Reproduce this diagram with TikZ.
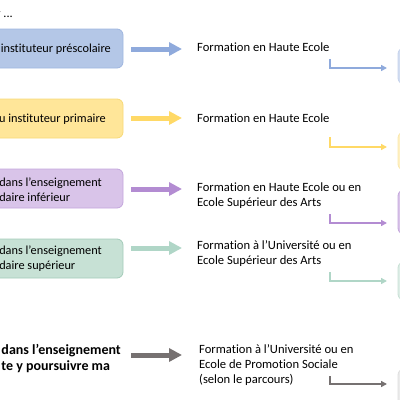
\documentclass[tikz,border=0pt]{standalone}
\usepackage{fontspec}
\setmainfont[RawFeature=-liga]{Carlito}
\usetikzlibrary{arrows.meta}
\definecolor{bfill}{HTML}{B4C7E7}\definecolor{bline}{HTML}{9FB6DF}\definecolor{barr}{HTML}{8FAADC}
\definecolor{yfill}{HTML}{FFE699}\definecolor{yline}{HTML}{F7D977}\definecolor{yarr}{HTML}{FFD966}
\definecolor{pfill}{HTML}{D9C4E9}\definecolor{pline}{HTML}{C3A6DC}\definecolor{parr}{HTML}{B38CD2}
\definecolor{gfill}{HTML}{C7E1D5}\definecolor{gline}{HTML}{A3CBB9}\definecolor{garr}{HTML}{B0D6C7}
\definecolor{kfill}{HTML}{DEDEDE}\definecolor{karr}{HTML}{767171}
\begin{document}
\begin{tikzpicture}[x=1pt,y=-1pt,
  txt/.style={inner sep=0pt,align=left,font=\fontsize{12.6}{15}\selectfont},
  ltxt/.style={anchor=east,inner sep=0pt,align=left,font=\fontsize{12.3}{15.5}\selectfont},
  lbox/.style={rounded corners=6pt,line width=0.8pt},
  bigarrow/.style={line width=5pt,-{Triangle[length=13pt,width=13pt]}},
  elbow/.style={line width=2.4pt,-{Triangle[length=6pt,width=6pt]}}]
\clip (0,0) rectangle (400,400);
\useasboundingbox (0,0) rectangle (400,400);
% top-left fragment
\node[ltxt] (top) at (13,15) {r ...};
% left boxes
\node[lbox,fill=bfill,draw=bline,minimum width=190pt,minimum height=39pt] (b1) at (28,48.5) {};
\node[lbox,fill=yfill,draw=yline,minimum width=190pt,minimum height=39pt] (b2) at (28,118.5) {};
\node[lbox,fill=pfill,draw=pline,minimum width=190pt,minimum height=39pt] (b3) at (28,188.5) {};
\node[lbox,fill=gfill,draw=gline,minimum width=190pt,minimum height=39pt] (b4) at (28,258.5) {};
\node[ltxt] (l1) at (111,49) {instituteur préscolaire};
\node[ltxt] (l2) at (106,119) {u instituteur primaire};
\node[ltxt] (l3) at (102,189.5) {dans l’enseignement\\daire inférieur};
\node[ltxt] (l4) at (102,258.5) {dans l’enseignement\\daire supérieur};
\node[ltxt,font=\fontsize{14}{16}\selectfont\bfseries] (l5) at (121,359) {dans l’enseignement\\te y poursuivre ma};
% right texts
\node[txt,anchor=west] (t1) at (197,47) {Formation en Haute Ecole};
\node[txt,anchor=west] (t2) at (197,118) {Formation en Haute Ecole};
\node[txt,anchor=west] (t3) at (197,195.5) {Formation en Haute Ecole ou en\\Ecole Supérieur des Arts};
\node[txt,anchor=west] (t4) at (197,253.5) {Formation à l’Université ou en\\Ecole Supérieur des Arts};
\node[txt,anchor=west] (t5) at (199,365) {Formation à l’Université ou en\\Ecole de Promotion Sociale\\(selon le parcours)};
% right boxes (cut off)
\node[lbox,fill=bfill!60,draw=bline!60,minimum width=40pt,minimum height=36pt] (r1) at (418,66) {};
\node[lbox,fill=yfill!60,draw=yline!60,minimum width=40pt,minimum height=38pt] (r2) at (418,151) {};
\node[lbox,fill=pfill,draw=pline,minimum width=40pt,minimum height=44pt] (r3) at (418,212) {};
\node[lbox,fill=gfill!60,draw=gline!60,minimum width=40pt,minimum height=38pt] (r4) at (418,281) {};
\node[lbox,fill=kfill!60,draw=kfill,minimum width=40pt,minimum height=42pt] (r5) at (418,390) {};
% big arrows
\coordinate (a1) at (131,49); \coordinate (a2) at (131,118); \coordinate (a3) at (131,189);
\coordinate (a4) at (131,248); \coordinate (a5) at (131,355);
\draw[bigarrow,barr] (a1) -- ([xshift=51pt]a1);
\draw[bigarrow,yarr] (a2) -- ([xshift=51pt]a2);
\draw[bigarrow,parr] (a3) -- ([xshift=51pt]a3);
\draw[bigarrow,garr] (a4) -- ([xshift=51pt]a4);
\draw[bigarrow,karr] (a5) -- ([xshift=51pt]a5);
% elbow connectors
\coordinate (s1) at (330,59); \coordinate (s2) at (330,137); \coordinate (s3) at (330,214);
\coordinate (s4) at (330,272); \coordinate (s5) at (330,376);
\coordinate (e1) at (387,68); \coordinate (e2) at (387,147); \coordinate (e3) at (387,223);
\coordinate (e4) at (387,281); \coordinate (e5) at (387,384);
\draw[elbow,barr] (s1) |- (e1);
\draw[elbow,yarr] (s2) |- (e2);
\draw[elbow,parr] (s3) |- (e3);
\draw[elbow,garr] (s4) |- (e4);
\draw[elbow,karr] (s5) |- (e5);
\end{tikzpicture}
\end{document}
